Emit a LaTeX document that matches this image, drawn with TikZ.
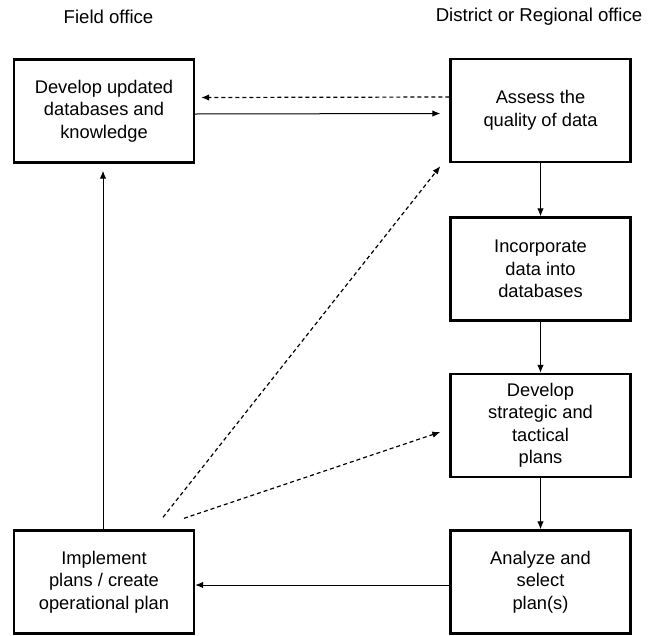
\documentclass[tikz,border=0pt]{standalone}
\usepackage{fontspec}
\setmainfont{Liberation Sans}
\usetikzlibrary{arrows.meta,calc}
\begin{document}
\begin{tikzpicture}[x=1pt,y=-1pt,
  box/.style={draw,line width=2.4pt,minimum width=180pt,minimum height=103pt,
    align=center,inner sep=0pt,font=\fontsize{18.3}{22.5}\selectfont},
  hdr/.style={font=\fontsize{18.6}{22}\selectfont,inner sep=0pt},
  flow/.style={line width=1pt,-{Latex[length=8pt,width=6.5pt]}},
  hint/.style={line width=1.2pt,dash pattern=on 4pt off 3pt,-{Latex[length=8pt,width=6.5pt]}}]
\useasboundingbox (0,0) rectangle (655,635);

% column headings
\node[hdr] (hf) at (108.5,17) {Field office};
\node[hdr] (hd) at (539,17) {District or Regional office};

% field office boxes
\node[box] (A) at (104,111) {Develop updated\\databases and\\knowledge};
\node[box] (F) at (104,582) {Implement\\plans / create\\operational plan};

% district / regional office boxes
\node[box] (B) at (540.5,110.5) {Assess the\\quality of data};
\node[box] (C) at (540.5,269) {Incorporate\\data into\\databases};
\node[box] (D) at (540.5,425.5) {Develop\\strategic and\\tactical\\plans};
\node[box] (E) at (540.5,582) {Analyze and\\select\\plan(s)};

% main flow
\draw[hint] ($(B.west)+(0,-13.5)$) -- ($(A.east)+(6,-13.5)$);
\draw[flow] ($(A.east)+(0,3)$) -- ($(B.west)+(-9,3)$);
\draw[flow] (B.south) -- (C.north);
\draw[flow] (C.south) -- (D.north);
\draw[flow] (D.south) -- (E.north);
\draw[flow] ($(E.west)+(0,3)$) -- ($(F.east)+(0,3)$);
\draw[flow] ($(F.north)+(-1,0)$) -- ($(A.south)+(-1,7)$);

% feedback from implementation
\draw[hint] ($(F.north)+(59,-12)$) -- ($(B.south west)+(-9,3)$);
\draw[hint] ($(F.north)+(80,-11)$) -- ($(D.west)+(-9,6.5)$);
\end{tikzpicture}
\end{document}
